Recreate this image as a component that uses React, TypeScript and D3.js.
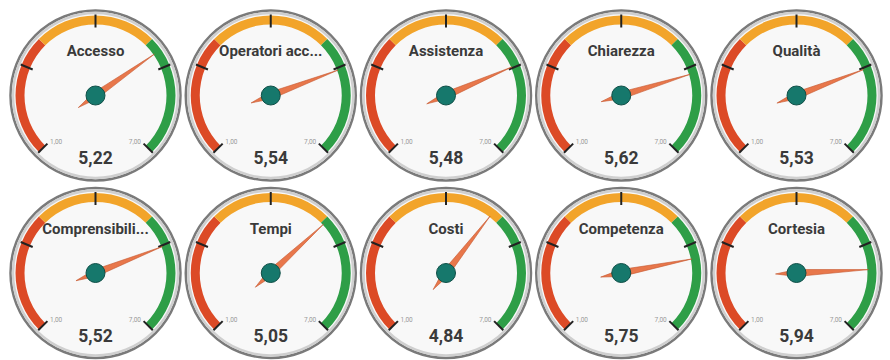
import React from "react";
import * as d3 from "d3";

const titles = ["Accesso", "Operatori acc...", "Assistenza", "Chiarezza", "Qualità", "Comprensibili...", "Tempi", "Costi", "Competenza", "Cortesia"];
const values = [5.22, 5.54, 5.48, 5.62, 5.53, 5.52, 5.05, 4.84, 5.75, 5.94];
const minValue = 1;
const maxValue = 7;
const bandStops = [1, 3, 5, 7];
const bandColors = ["#dc4a26", "#f2a42a", "#2e9e47"];
const tickValues = [1, 2.5, 4, 5.5, 7];

const W = 890;
const H = 360;
const fmt = (v: number) => v.toFixed(2).replace(".", ",");

function Gauge({ cx, cy, title, value }: { cx: number; cy: number; title: string; value: number }) {
  const angle = d3.scaleLinear().domain([minValue, maxValue]).range([-135, 135]);
  const rad = (deg: number) => (deg * Math.PI) / 180;
  const arc = d3.arc<any>();
  const pt = (deg: number, r: number) => [Math.sin(rad(deg)) * r, -Math.cos(rad(deg)) * r];
  const a = angle(value);
  const tip = pt(a, 72);
  const tail = pt(a, -21);
  const s1 = pt(a + 90, 3.5);
  const s2 = pt(a - 90, 3.5);
  const needle = `M${tip[0]},${tip[1]} L${s1[0]},${s1[1]} L${tail[0]},${tail[1]} L${s2[0]},${s2[1]} Z`;
  return (
    <g transform={`translate(${cx},${cy})`}>
      <circle r={85} fill="#f8f8f8" stroke="#7a7a7a" strokeWidth={2.5} />
      <circle r={82.5} fill="none" stroke="#cfcfcf" strokeWidth={2.5} />
      {bandColors.map((c, i) => (
        <path
          key={i}
          d={arc({ innerRadius: 71, outerRadius: 80, startAngle: rad(angle(bandStops[i])), endAngle: rad(angle(bandStops[i + 1])) }) as string}
          fill={c}
        />
      ))}
      {tickValues.map((t, i) => {
        const p1 = pt(angle(t), 68);
        const p2 = pt(angle(t), 81);
        return <line key={i} x1={p1[0]} y1={p1[1]} x2={p2[0]} y2={p2[1]} stroke="#222" strokeWidth={2} />;
      })}
      <text x={0} y={-43} textAnchor="middle" dominantBaseline="middle" fontFamily="Roboto, sans-serif" fontWeight={700} fontSize={15} fill="#3a3a3a">
        {title}
      </text>
      <text x={-45.5} y={47} textAnchor="start" dominantBaseline="middle" fontFamily="Roboto, sans-serif" fontSize={6.5} fill="#999">
        {fmt(minValue)}
      </text>
      <text x={45.5} y={47} textAnchor="end" dominantBaseline="middle" fontFamily="Roboto, sans-serif" fontSize={6.5} fill="#999">
        {fmt(maxValue)}
      </text>
      <path d={needle} fill="#e8774b" stroke="#c4552e" strokeWidth={0.6} />
      <circle r={9.5} fill="#16786c" stroke="#0f4f47" strokeWidth={1} />
      <text x={0} y={64} textAnchor="middle" dominantBaseline="middle" fontFamily="Roboto, sans-serif" fontWeight={700} fontSize={17.5} fill="#3a3a3a">
        {fmt(value)}
      </text>
    </g>
  );
}

export default function App() {
  const x = d3.scaleLinear().domain([0, 4]).range([95.5, 796.5]);
  const y = d3.scaleLinear().domain([0, 1]).range([95.5, 273]);
  return (
    <svg width={W} height={H} style={{ position: "absolute", left: 0, top: 0, background: "#fff" }}>
      {titles.map((t, i) => (
        <Gauge key={i} cx={x(i % 5)} cy={y(Math.floor(i / 5))} title={t} value={values[i]} />
      ))}
    </svg>
  );
}
